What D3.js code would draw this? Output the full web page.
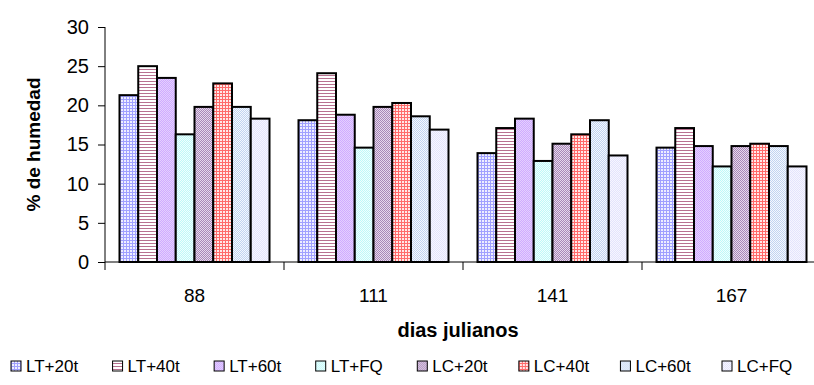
<!DOCTYPE html>
<html>
<head>
<meta charset="utf-8">
<script src="https://cdn.jsdelivr.net/npm/d3@7"></script>
<style>
  html, body { margin: 0; padding: 0; background: #fff; }
  svg { display: block; font-family: "Liberation Sans", Arial, sans-serif; }
</style>
</head>
<body>
<svg id="chart" width="814" height="385"></svg>
<script>
// Soil moisture (%) by Julian day for each treatment
const days = ["88", "111", "141", "167"];
const treatments = ["LT+20t", "LT+40t", "LT+60t", "LT+FQ", "LC+20t", "LC+40t", "LC+60t", "LC+FQ"];
const lt20 = [21.3, 18.1, 13.9, 14.6];
const lt40 = [25.0, 24.1, 17.1, 17.1];
const lt60 = [23.5, 18.8, 18.3, 14.8];
const ltFQ = [16.3, 14.6, 12.9, 12.2];
const lc20 = [19.8, 19.8, 15.1, 14.8];
const lc40 = [22.8, 20.3, 16.3, 15.1];
const lc60 = [19.8, 18.6, 18.1, 14.8];
const lcFQ = [18.3, 16.9, 13.6, 12.2];
const yTicks = [0, 5, 10, 15, 20, 25, 30];

const seriesValues = [lt20, lt40, lt60, ltFQ, lc20, lc40, lc60, lcFQ];

const svg = d3.select("#chart");
const margin = { left: 105, top: 27, bottom: 262, right: 821 };

// Fill patterns for each treatment
const defs = svg.append("defs");
function pattern(id, size, bg, draw) {
  const p = defs.append("pattern").attr("id", id)
    .attr("patternUnits", "userSpaceOnUse").attr("width", size).attr("height", size);
  p.append("rect").attr("width", size).attr("height", size).attr("fill", bg);
  draw(p);
}
function grid(color) {
  return p => {
    p.append("rect").attr("x", 0).attr("y", 0).attr("width", 3).attr("height", 1).attr("fill", color);
    p.append("rect").attr("x", 0).attr("y", 0).attr("width", 1).attr("height", 3).attr("fill", color);
  };
}
function checker(color) {
  return p => {
    p.append("rect").attr("x", 0).attr("y", 0).attr("width", 1).attr("height", 1).attr("fill", color);
    p.append("rect").attr("x", 1).attr("y", 1).attr("width", 1).attr("height", 1).attr("fill", color);
  };
}
pattern("p0", 3, "#eeeeff", grid("#a0a0ff"));
pattern("p1", 3, "#ffffff", p => {
  p.append("rect").attr("x", 0).attr("y", 0).attr("width", 3).attr("height", 1).attr("fill", "#b87090");
});
pattern("p2", 2, "#e4d0ff", checker("#d0acff"));
pattern("p3", 2, "#f0ffff", checker("#bff8f8"));
pattern("p4", 2, "#e6d8ec", checker("#a888b8"));
pattern("p5", 3, "#ffe8e8", grid("#ff6a6a"));
pattern("p6", 2, "#f4f8ff", checker("#c2d4f0"));
pattern("p7", 2, "#f6f6ff", checker("#e4e4fc"));

const x0 = d3.scaleBand().domain(days).range([margin.left, margin.right]).paddingInner(0).paddingOuter(0);
const x1 = d3.scaleBand().domain(treatments).range([14.5, x0.bandwidth() - 14.5]).padding(0);
const y = d3.scaleLinear().domain([0, 30]).range([margin.bottom, margin.top]);

// Bars
const groups = svg.append("g").selectAll("g").data(days).join("g")
  .attr("transform", d => `translate(${x0(d)},0)`);
groups.selectAll("rect")
  .data((d, i) => treatments.map((t, k) => ({ t, k, v: seriesValues[k][i] })))
  .join("rect")
  .attr("x", d => x1(d.t))
  .attr("y", d => y(d.v))
  .attr("width", x1.bandwidth())
  .attr("height", d => y(0) - y(d.v))
  .attr("fill", d => `url(#p${d.k})`)
  .attr("stroke", "#000")
  .attr("stroke-width", 2);

// Y axis
const yAxis = svg.append("g").attr("transform", `translate(${margin.left},0)`)
  .call(d3.axisLeft(y).tickValues(yTicks).tickSize(7).tickPadding(9).tickFormat(d3.format("d")));
yAxis.select(".domain").attr("stroke", "#000").attr("d", `M0,${margin.top}V${margin.bottom}`);
yAxis.selectAll(".tick line").attr("stroke", "#000");
yAxis.selectAll("text").attr("font-size", 20).attr("fill", "#000");

// X axis with ticks at category boundaries
const xAxis = svg.append("g").attr("transform", `translate(0,${margin.bottom})`);
xAxis.append("line").attr("x1", margin.left).attr("x2", margin.right)
  .attr("stroke", "#000").attr("stroke-width", 1);
const bounds = days.map(d => x0(d)).concat([x0(days[days.length - 1]) + x0.bandwidth()]);
xAxis.selectAll("line.tk").data(bounds).join("line").attr("class", "tk")
  .attr("x1", d => d).attr("x2", d => d).attr("y1", 0).attr("y2", 8).attr("stroke", "#000");
xAxis.selectAll("text").data(days).join("text")
  .attr("x", d => x0(d) + x0.bandwidth() / 2)
  .attr("y", 40)
  .attr("text-anchor", "middle")
  .attr("font-size", 19)
  .text(d => d);

// Axis titles
svg.append("text")
  .attr("transform", `translate(40,${(margin.top + margin.bottom) / 2}) rotate(-90)`)
  .attr("text-anchor", "middle")
  .attr("font-size", 19).attr("font-weight", "bold")
  .text("% de humedad");
svg.append("text")
  .attr("x", 458).attr("y", 337)
  .attr("text-anchor", "middle")
  .attr("font-size", 20).attr("font-weight", "bold")
  .text("dias julianos");

// Legend
const legendX = d3.scalePoint().domain(treatments).range([11, 722]);
const legend = svg.append("g").selectAll("g").data(treatments).join("g")
  .attr("transform", d => `translate(${legendX(d)},366)`);
legend.append("rect")
  .attr("x", 0).attr("y", -5).attr("width", 10).attr("height", 10)
  .attr("fill", (d, i) => `url(#p${i})`)
  .attr("stroke", "#000").attr("stroke-width", 1);
legend.append("text")
  .attr("x", 15).attr("y", 6)
  .attr("font-size", 17)
  .text(d => d);
</script>
</body>
</html>
